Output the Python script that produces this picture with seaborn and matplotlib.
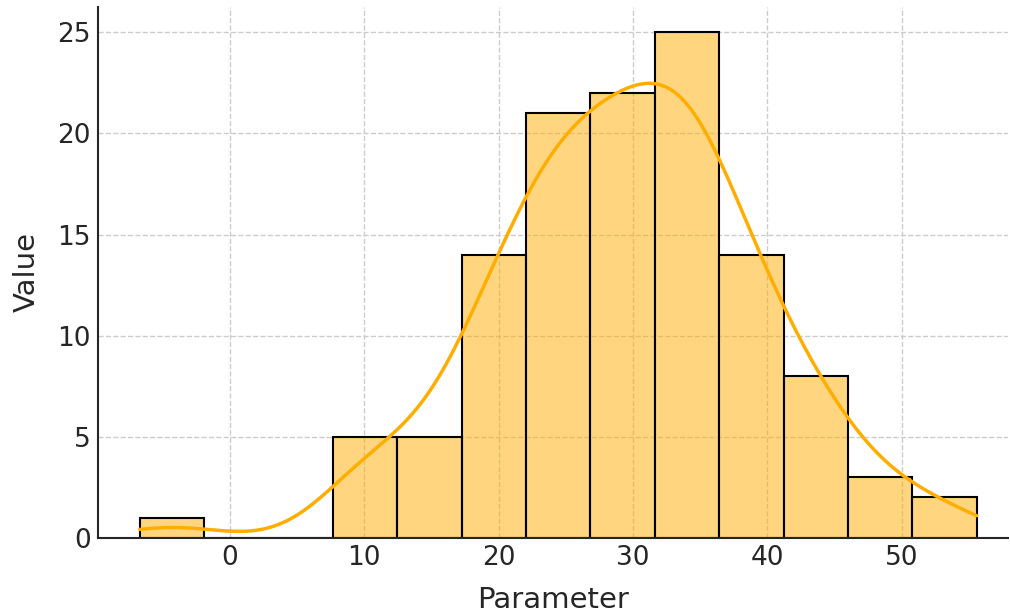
import numpy as np
import pandas as pd
import matplotlib
matplotlib.use("Agg")
import matplotlib.pyplot as plt
import seaborn as sns

# Histogram bins and counts
bin_edges = [-6.7, -1.91, 2.88, 7.67, 12.46, 17.25, 22.04, 26.83, 31.62, 36.41, 41.2, 45.99, 50.78, 55.57]
counts = [1, 0, 0, 5, 5, 14, 21, 22, 25, 14, 8, 3, 2]
x_ticks = [0, 10, 20, 30, 40, 50]
y_ticks = [0, 5, 10, 15, 20, 25]

centers = [(a + b) / 2 for a, b in zip(bin_edges[:-1], bin_edges[1:])]
df = pd.DataFrame({"Parameter": centers, "count": counts})

sns.set_style("whitegrid")
plt.rcParams["font.family"] = ["DejaVu Sans"]

fig = plt.figure(figsize=(10.1, 6.14), dpi=100)
ax = fig.add_axes([0.097, 0.124, 0.901, 0.8646])

color = "#FFAE00"
sns.histplot(data=df, x="Parameter", weights="count", bins=bin_edges, kde=True,
             color=color, alpha=0.5, edgecolor="black", linewidth=1.5,
             kde_kws={"bw_adjust": 0.52, "cut": 3, "clip": (bin_edges[0], bin_edges[-1])},
             line_kws={"linewidth": 2.5}, ax=ax)

ax.set_xlim(-9.8, 57.9)
ax.set_ylim(0, 26.25)
ax.set_xticks(x_ticks)
ax.set_yticks(y_ticks)
ax.set_xlabel("Parameter", fontsize=21, color="#262626", labelpad=11)
ax.set_ylabel("Value", fontsize=21, color="#262626", labelpad=12)
ax.tick_params(axis="both", labelsize=19, direction="in", length=6, width=1.2,
               colors="#262626", pad=5)
ax.grid(True, linestyle="--", color="#cccccc", linewidth=1)
for s in ["top", "right"]:
    ax.spines[s].set_visible(False)
for s in ["left", "bottom"]:
    ax.spines[s].set_color("#262626")
    ax.spines[s].set_linewidth(1.5)

fig.savefig("out.png", dpi=100)
